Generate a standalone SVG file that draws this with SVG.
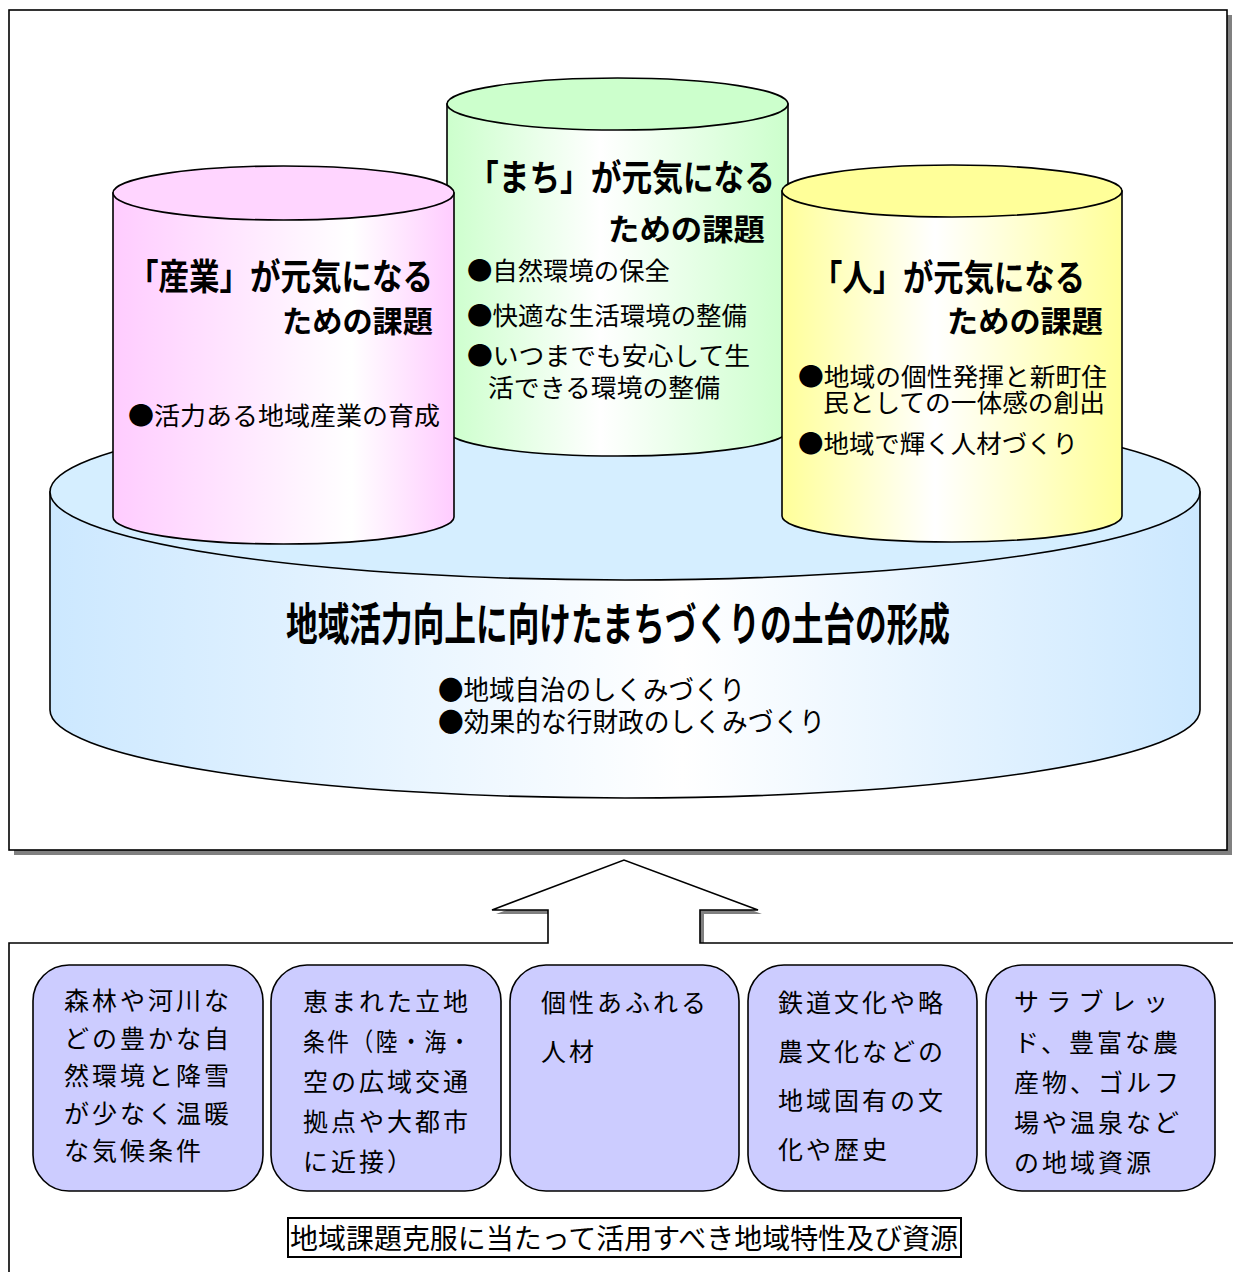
<svg xmlns="http://www.w3.org/2000/svg" width="1233" height="1272" viewBox="0 0 1233 1272">
<defs>
<linearGradient id="gPink" x1="0" y1="0" x2="1" y2="0">
<stop offset="0" stop-color="#FFCCFF"/><stop offset="0.7" stop-color="#FFFFFF"/><stop offset="1" stop-color="#FFCCFF"/>
</linearGradient>
<linearGradient id="gGreen" x1="0" y1="0" x2="1" y2="0">
<stop offset="0" stop-color="#CCFFCC"/><stop offset="0.45" stop-color="#FFFFFF"/><stop offset="1" stop-color="#CCFFCC"/>
</linearGradient>
<linearGradient id="gYellow" x1="0" y1="0" x2="1" y2="0">
<stop offset="0" stop-color="#FFFF99"/><stop offset="0.45" stop-color="#FFFFFF"/><stop offset="1" stop-color="#FFFF99"/>
</linearGradient>
<linearGradient id="gBlue" x1="0" y1="0" x2="1" y2="0">
<stop offset="0" stop-color="#CCE8FF"/><stop offset="0.55" stop-color="#FFFFFF"/><stop offset="1" stop-color="#CCE8FF"/>
</linearGradient>
</defs>
<style>
text{font-family:'Noto Sans CJK JP','Noto Sans CJK SC',sans-serif;fill:#000;}
.ln{stroke:#000;stroke-width:1.6;}
.ttl{font-size:36px;font-weight:700;}
.sub{font-size:30px;font-weight:700;}
.bul{font-size:25px;}
.box{fill:#CCCCFF;stroke:#000;stroke-width:1.6;}
.bt{font-size:25px;letter-spacing:3px;}
</style>
<rect width="1233" height="1272" fill="#FFFFFF"/>

<g id="top-frame">
<rect x="14" y="15" width="1218" height="840" fill="#808080"/>
<rect x="9" y="10" width="1218" height="840" fill="#FFFFFF" class="ln"/>
</g>

<g id="base">
<path d="M50,492 V710 A575,88 0 0 0 1200,710 V492 Z" fill="url(#gBlue)" class="ln"/>
<ellipse cx="625" cy="492" rx="575" ry="88" fill="#D5EEFF" class="ln"/>
<text x="618" y="641" text-anchor="middle" font-size="45" font-weight="700" textLength="664" lengthAdjust="spacingAndGlyphs">地域活力向上に向けたまちづくりの土台の形成</text>
<text x="438" y="700" font-size="27" textLength="307" lengthAdjust="spacingAndGlyphs">●地域自治のしくみづくり</text>
<text x="438" y="732" font-size="27" textLength="387" lengthAdjust="spacingAndGlyphs">●効果的な行財政のしくみづくり</text>
</g>

<g id="machi">
<path d="M447,104 V430 A170.5,26 0 0 0 788,430 V104 Z" fill="url(#gGreen)" class="ln"/>
<ellipse cx="617.5" cy="104" rx="170.5" ry="26" fill="#CCFFCC" class="ln"/>
<text x="468" y="191" class="ttl" textLength="307" lengthAdjust="spacingAndGlyphs">「まち」が元気になる</text>
<text x="765" y="240" class="sub" text-anchor="end" textLength="157" lengthAdjust="spacingAndGlyphs">ための課題</text>
<text x="467" y="280" class="bul" textLength="203" lengthAdjust="spacingAndGlyphs">●自然環境の保全</text>
<text x="467" y="325" class="bul" textLength="280" lengthAdjust="spacingAndGlyphs">●快適な生活環境の整備</text>
<text x="467" y="365" class="bul" textLength="283" lengthAdjust="spacingAndGlyphs">●いつまでも安心して生</text>
<text x="488" y="397" class="bul" textLength="232" lengthAdjust="spacingAndGlyphs">活できる環境の整備</text>
</g>

<g id="sangyo">
<path d="M113,193 V517 A170.5,27 0 0 0 454,517 V193 Z" fill="url(#gPink)" class="ln"/>
<ellipse cx="283.5" cy="193" rx="170.5" ry="27" fill="#FFD5FF" class="ln"/>
<text x="128" y="290" class="ttl" textLength="305" lengthAdjust="spacingAndGlyphs">「産業」が元気になる</text>
<text x="433" y="332" class="sub" text-anchor="end" textLength="151" lengthAdjust="spacingAndGlyphs">ための課題</text>
<text x="128" y="425" class="bul" textLength="312" lengthAdjust="spacingAndGlyphs">●活力ある地域産業の育成</text>
</g>

<g id="hito">
<path d="M782,191 V516 A170,26 0 0 0 1122,516 V191 Z" fill="url(#gYellow)" class="ln"/>
<ellipse cx="952" cy="191" rx="170" ry="26" fill="#FFFF99" class="ln"/>
<text x="812" y="291" class="ttl" textLength="273" lengthAdjust="spacingAndGlyphs">「人」が元気になる</text>
<text x="1103" y="332" class="sub" text-anchor="end" textLength="156" lengthAdjust="spacingAndGlyphs">ための課題</text>
<text x="798" y="386" class="bul" textLength="309" lengthAdjust="spacingAndGlyphs">●地域の個性発揮と新町住</text>
<text x="823" y="412" class="bul" textLength="282" lengthAdjust="spacingAndGlyphs">民としての一体感の創出</text>
<text x="798" y="453" class="bul" textLength="280" lengthAdjust="spacingAndGlyphs">●地域で輝く人材づくり</text>
</g>

<g id="connectors">
<path d="M13,1276 V947 H552 V914 H496 L628,864 L762,914 H704 V947 H1237 V1276 Z" fill="#808080"/>
<path d="M9,1276 V943 H548 V910 H492 L624,860 L758,910 H700 V943 H1237 V1276 Z" fill="#FFFFFF" class="ln" stroke-linejoin="miter"/>
</g>

<g id="res1">
<rect x="33" y="965" width="230" height="226" rx="36" ry="36" class="box"/>
<text class="bt"><tspan x="64" y="1010">森林や河川な</tspan><tspan x="64" y="1047.5">どの豊かな自</tspan><tspan x="64" y="1085">然環境と降雪</tspan><tspan x="64" y="1122.5">が少なく温暖</tspan><tspan x="64" y="1160">な気候条件</tspan></text>
</g>
<g id="res2">
<rect x="271" y="965" width="230" height="226" rx="36" ry="36" class="box"/>
<text class="bt"><tspan x="303" y="1011">恵まれた立地</tspan><tspan x="303" y="1051" textLength="170" lengthAdjust="spacingAndGlyphs">条件（陸・海・</tspan><tspan x="303" y="1091">空の広域交通</tspan><tspan x="303" y="1131">拠点や大都市</tspan><tspan x="303" y="1171">に近接）</tspan></text>
</g>
<g id="res3">
<rect x="510" y="965" width="229" height="226" rx="36" ry="36" class="box"/>
<text class="bt"><tspan x="541" y="1012">個性あふれる</tspan><tspan x="541" y="1061">人材</tspan></text>
</g>
<g id="res4">
<rect x="748" y="965" width="229" height="226" rx="36" ry="36" class="box"/>
<text class="bt"><tspan x="778" y="1012">鉄道文化や略</tspan><tspan x="778" y="1061">農文化などの</tspan><tspan x="778" y="1110">地域固有の文</tspan><tspan x="778" y="1159">化や歴史</tspan></text>
</g>
<g id="res5">
<rect x="986" y="965" width="229" height="226" rx="36" ry="36" class="box"/>
<text class="bt"><tspan x="1014" y="1011" textLength="157">サラブレッ</tspan><tspan x="1014" y="1052">ド、豊富な農</tspan><tspan x="1014" y="1092">産物、ゴルフ</tspan><tspan x="1014" y="1132">場や温泉など</tspan><tspan x="1014" y="1172">の地域資源</tspan></text>
</g>

<g id="caption">
<rect x="288" y="1218" width="673" height="39" fill="#FFFFFF" stroke="#000" stroke-width="2"/>
<text x="290" y="1249" font-size="28" textLength="668" lengthAdjust="spacingAndGlyphs">地域課題克服に当たって活用すべき地域特性及び資源</text>
</g>
</svg>
